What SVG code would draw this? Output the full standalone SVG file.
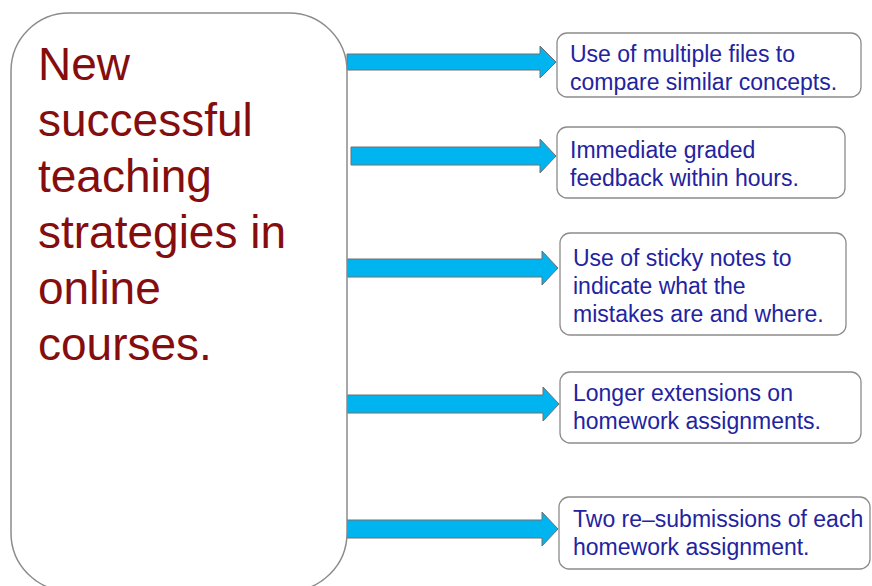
<svg xmlns="http://www.w3.org/2000/svg" width="872" height="586" viewBox="0 0 872 586">
<style>
.main{fill:#fff;stroke:#8c8c8c;stroke-width:1.5}
.box{fill:#fff;stroke:#8c8c8c;stroke-width:1.3}
.arr{fill:#00b4f0;stroke:#6e6e6e;stroke-width:1}
.t1{font-family:"Liberation Sans",Arial,sans-serif;font-size:46px;fill:#850d0d}
.t2{font-family:"Liberation Sans",Arial,sans-serif;font-size:23px;fill:#2323a0}
</style>
<rect width="872" height="586" fill="#fff"/>
<g id="connectors">
<polygon class="arr" points="347,54 540,54 540,46 556,62 540,78 540,70 347,70"/>
<polygon class="arr" points="351,147 540,147 540,139 556,156 540,173 540,165 351,165"/>
<polygon class="arr" points="347,259 542,259 542,251 558,268 542,285 542,277 347,277"/>
<polygon class="arr" points="347,395 543,395 543,387 559,404 543,421 543,413 347,413"/>
<polygon class="arr" points="347,520 542,520 542,512 558,529 542,546 542,538 347,538"/>
</g>
<g id="main">
<rect class="main" x="11" y="13" width="336" height="578" rx="58" ry="58"/>
<text class="t1" x="38"><tspan x="38" y="80">New</tspan><tspan x="38" y="136">successful</tspan><tspan x="38" y="192">teaching</tspan><tspan x="38" y="248">strategies in</tspan><tspan x="38" y="304">online</tspan><tspan x="38" y="360">courses.</tspan></text>
</g>
<g id="n1">
<rect class="box" x="557" y="33" width="304" height="64" rx="10"/>
<text class="t2"><tspan x="570" y="62">Use of multiple files to</tspan><tspan x="570" y="90">compare similar concepts.</tspan></text>
</g>
<g id="n2">
<rect class="box" x="557" y="127" width="288" height="71" rx="10"/>
<text class="t2"><tspan x="570" y="158">Immediate graded</tspan><tspan x="570" y="186">feedback within hours.</tspan></text>
</g>
<g id="n3">
<rect class="box" x="560" y="233" width="286" height="102" rx="10"/>
<text class="t2"><tspan x="573" y="266">Use of sticky notes to</tspan><tspan x="573" y="294">indicate what the</tspan><tspan x="573" y="322">mistakes are and where.</tspan></text>
</g>
<g id="n4">
<rect class="box" x="560" y="372" width="301" height="71" rx="10"/>
<text class="t2"><tspan x="573" y="401">Longer extensions on</tspan><tspan x="573" y="429">homework assignments.</tspan></text>
</g>
<g id="n5">
<rect class="box" x="559" y="497" width="311" height="72" rx="10"/>
<text class="t2"><tspan x="573" y="527">Two re–submissions of each</tspan><tspan x="573" y="555">homework assignment.</tspan></text>
</g>
</svg>
